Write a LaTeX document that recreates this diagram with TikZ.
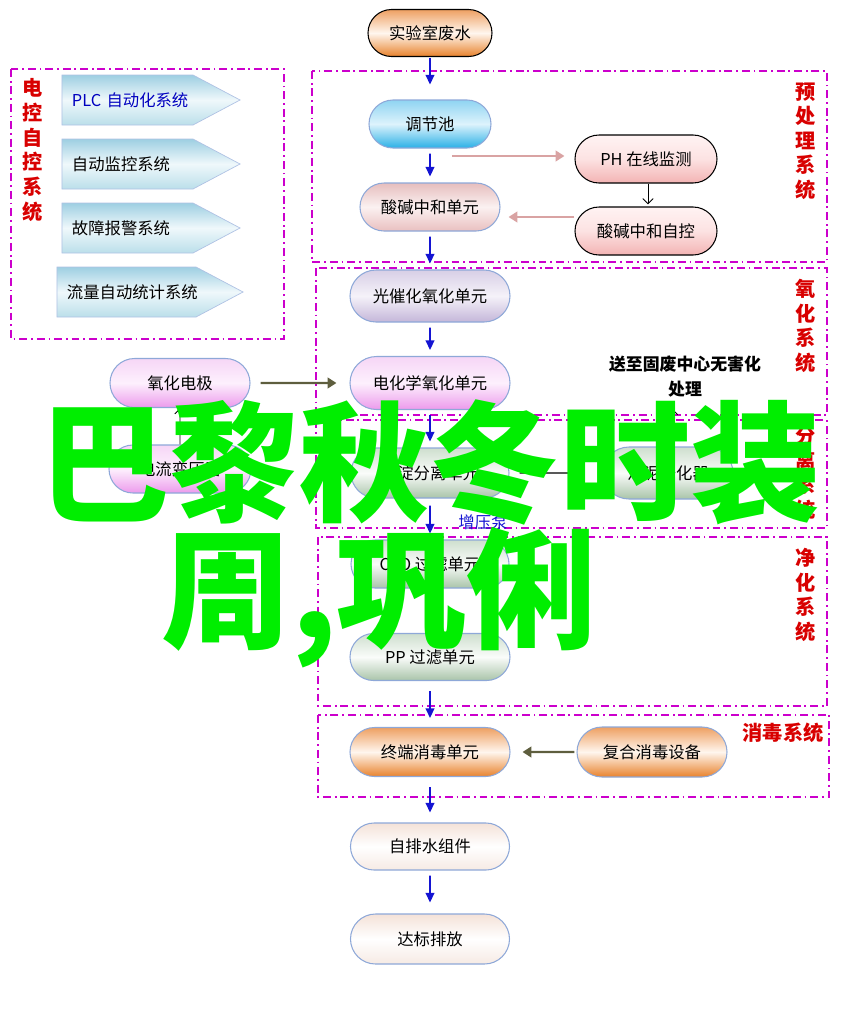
\documentclass[tikz,border=0pt]{standalone}
\usepackage{fontspec}
\newfontfamily\cjk{Noto Sans CJK SC}
\usetikzlibrary{arrows.meta,shapes.misc,shapes.symbols}
\definecolor{framemag}{HTML}{CC00CC}
\definecolor{lblred}{HTML}{D80000}
\definecolor{flowblue}{HTML}{1414D2}
\definecolor{pinkline}{HTML}{D9A3A3}
\definecolor{oliveline}{HTML}{5E5E3E}
\definecolor{leafgreen}{HTML}{00EE00}
\definecolor{edgeblue}{HTML}{8EA8D8}
\definecolor{orTop}{HTML}{EEA062}\definecolor{orMid}{HTML}{FFF6EE}\definecolor{orBot}{HTML}{E8822C}
\definecolor{blTop}{HTML}{8FD4F2}\definecolor{blMid}{HTML}{DDF3FC}\definecolor{blBot}{HTML}{2AB0E6}
\definecolor{pkTop}{HTML}{E6BEBE}\definecolor{pkMid}{HTML}{FBF1F1}\definecolor{pkBot}{HTML}{E9C0C0}
\definecolor{rdTop}{HTML}{FFF3F3}\definecolor{rdMid}{HTML}{FCE2E2}\definecolor{rdBot}{HTML}{F3B3B3}
\definecolor{lvTop}{HTML}{D8CFE6}\definecolor{lvMid}{HTML}{F5F2F9}\definecolor{lvBot}{HTML}{C4B6D9}
\definecolor{mgTop}{HTML}{F6D6F6}\definecolor{mgMid}{HTML}{FDF0FD}\definecolor{mgBot}{HTML}{EC9AEC}
\definecolor{grTop}{HTML}{CEDFCE}\definecolor{grMid}{HTML}{FAFCFA}\definecolor{grBot}{HTML}{A9C4A9}
\definecolor{plTop}{HTML}{F4E2D8}\definecolor{plMid}{HTML}{FFFFFF}\definecolor{plBot}{HTML}{F6EAE4}
\definecolor{ctTop}{HTML}{9ECFE2}\definecolor{ctMid}{HTML}{EFF8FB}\definecolor{ctBot}{HTML}{BBDFEA}
\begin{document}
\begin{tikzpicture}[scale=0.2,
    font=\cjk\fontsize{9.3}{11}\selectfont,
    pill/.style={rounded rectangle, draw=edgeblue, line width=0.6pt, minimum height=0.96cm, inner sep=0pt},
    orangepill/.style={pill, top color=orTop, bottom color=orBot, middle color=orMid},
    bluepill/.style={pill, top color=blTop, bottom color=blBot, middle color=blMid},
    pinkpill/.style={pill, top color=pkTop, bottom color=pkBot, middle color=pkMid},
    redpill/.style={pill, draw=black, top color=rdTop, bottom color=rdBot, middle color=rdMid},
    lavpill/.style={pill, top color=lvTop, bottom color=lvBot, middle color=lvMid},
    magpill/.style={pill, top color=mgTop, bottom color=mgBot, middle color=mgMid},
    greenpill/.style={pill, top color=grTop, bottom color=grBot, middle color=grMid},
    palepill/.style={pill, top color=plTop, bottom color=plBot, middle color=plMid},
    ctrlarrow/.style={signal, signal to=east, signal pointer angle=56, draw=edgeblue!70, line width=0.4pt,
        top color=ctTop, bottom color=ctBot, middle color=ctMid, minimum height=1cm,
        text width=2.22cm, align=left, inner xsep=0.2cm},
    secframe/.style={draw=framemag, line width=0.9pt, dash pattern=on 4.5pt off 2.2pt on 1pt off 2.2pt},
    seclabel/.style={text=lblred, align=center, font=\cjk\fontsize{11.5}{14}\selectfont\bfseries},
    flow/.style={draw=flowblue, line width=1.1pt, -{Triangle[length=5.5pt,width=5pt]}, shorten <=0.1cm, shorten >=0.12cm},
    pinkarr/.style={draw=pinkline, line width=1.2pt, -{Triangle[length=5pt,width=6pt]}},
    olivearr/.style={draw=oliveline, line width=1.2pt, -{Triangle[length=5pt,width=6pt]}},
    thinarr/.style={draw=black, line width=0.5pt, -{Straight Barb[length=3pt,width=6pt]}},
    blkarr/.style={draw=black, line width=0.6pt, -{Triangle[length=6pt,width=6pt]}},
    bigword/.style={text=leafgreen, font=\cjk\fontsize{74}{80}\selectfont\bfseries, inner sep=0pt}
]
    \useasboundingbox (0,0) rectangle (84.1,-101.7);
    % frames
    \draw [secframe] (1.1,-6.9) rectangle (28.4,-33.9);
    \draw [secframe] (31.2,-7.1) rectangle (82.7,-26.2);
    \draw [secframe] (31.6,-26.8) rectangle (82.7,-41.5);
    \draw [secframe] (31.6,-42.0) rectangle (82.7,-52.8);
    \draw [secframe] (31.8,-53.7) rectangle (82.7,-70.6);
    \draw [secframe] (31.8,-71.5) rectangle (82.9,-79.7);
    \node [seclabel] (ctrllbl) at (3.3,-15.0) {电\\控\\自\\控\\系\\统};
    \node [seclabel] (prelbl) at (80.6,-14.1) {预\\处\\理\\系\\统};
    \node [seclabel] (oxilbl) at (80.6,-32.6) {氧\\化\\系\\统};
    \node [seclabel] (seplbl) at (80.6,-47.3) {分\\离\\系\\统};
    \node [seclabel] (purlbl) at (80.6,-59.5) {净\\化\\系\\统};
    \node [seclabel] (dislbl) at (78.3,-73.3) {消毒系统};
    % control system
    \node [ctrlarrow, text=blue!75!black] (plc) at (12.75,-10.0) {\mbox{PLC 自动化系统}};
    \node [ctrlarrow] (monitor) at (12.75,-16.4) {\mbox{自动监控系统}};
    \node [ctrlarrow] (alarm) at (12.75,-22.8) {\mbox{故障报警系统}};
    \node [ctrlarrow, text width=2.38cm] (flowcount) at (12.65,-29.2) {\mbox{流量自动统计系统}};
    % main line
    \node [orangepill, draw=black, minimum width=2.48cm, minimum height=0.94cm] (src) at (43.0,-3.3) {实验室废水};
    \node [bluepill, minimum width=2.44cm] (eq) at (43.0,-12.4) {调节池};
    \node [pinkpill, minimum width=2.8cm] (acid) at (43.0,-20.7) {酸碱中和单元};
    \node [redpill, minimum width=2.84cm] (ph) at (64.6,-15.9) {PH 在线监测};
    \node [redpill, minimum width=2.84cm] (phctl) at (64.6,-23.1) {酸碱中和自控};
    \node [lavpill, minimum width=3.2cm, minimum height=1.04cm] (photo) at (43.0,-29.6) {光催化氧化单元};
    \node [magpill, minimum width=3.2cm, minimum height=1.06cm] (echem) at (43.0,-38.3) {电化学氧化单元};
    \node [magpill, minimum width=2.8cm, minimum height=0.98cm] (elec) at (18.0,-38.3) {氧化电极};
    \node [magpill, minimum width=2.84cm] (trans) at (18.0,-46.9) {电流变压器};
    \node [greenpill, minimum width=3.16cm, minimum height=1.0cm] (settle) at (43.0,-47.3) {沉淀分离单元};
    \node [greenpill, minimum width=2.6cm, minimum height=1.04cm] (sludge) at (66.8,-47.3) {污泥干化器};
    \node [font=\cjk\fontsize{9.6}{14.2}\selectfont\bfseries, align=center] (dest) at (68.5,-37.7) {送至固废中心无害化\\处理};
    \node [text=flowblue] (pump) at (48.3,-52.2) {增压泵};
    \node [greenpill, minimum width=3.16cm] (cto) at (43.0,-56.4) {CTO 过滤单元};
    \node [greenpill, minimum width=3.2cm, minimum height=0.94cm] (pp) at (43.0,-65.7) {PP 过滤单元};
    \node [orangepill, minimum width=3.2cm, minimum height=0.98cm] (term) at (43.0,-75.2) {终端消毒单元};
    \node [orangepill, minimum width=3.0cm, minimum height=1.0cm] (combo) at (65.2,-75.2) {复合消毒设备};
    \node [palepill, minimum width=3.18cm, minimum height=0.94cm] (drain) at (43.0,-84.65) {自排水组件};
    \node [palepill, minimum width=3.18cm, minimum height=1.0cm] (out) at (43.0,-93.9) {达标排放};
    % connectors
    \draw [flow, shorten <=0.02cm, shorten >=0.3cm] (src) -- (eq);
    \draw [flow] (eq) -- (acid);
    \draw [flow] (acid) -- (photo);
    \draw [flow] (photo) -- (echem);
    \draw [flow] (echem) -- (settle);
    \draw [flow, shorten <=0.14cm] (settle) -- (cto);
    \draw [flow] (cto) -- (pp);
    \draw [flow, shorten <=0.2cm, shorten >=0.18cm] (pp) -- (term);
    \draw [flow, shorten <=0.2cm, shorten >=0.2cm] (term) -- (drain);
    \draw [flow, shorten >=0.22cm] (drain) -- (out);
    \coordinate (phout) at (45.2,-15.6);
    \draw [pinkarr, shorten >=0.2cm] (phout) -- (ph.west |- phout);
    \coordinate (pinkret) at (0,-21.7);
    \draw [pinkarr, shorten >=0.16cm] (phctl.west |- pinkret) -- (acid.east |- pinkret);
    \draw [thinarr, shorten >=0.04cm] ([xshift=0.2cm]ph.south) -- ([xshift=0.2cm]phctl.north);
    \draw [olivearr, shorten <=0.2cm, shorten >=0.26cm] (elec) -- (echem);
    \draw [thinarr] (trans) -- (elec);
    \draw [blkarr, shorten <=0.2cm, shorten >=0.4cm] (settle) -- (sludge);
    \draw [thinarr, shorten >=0.1cm] ([xshift=0.44cm]sludge.north) -- ([xshift=0.44cm]sludge.north |- dest.south);
    \draw [olivearr, shorten <=0.04cm, shorten >=0.24cm] (combo) -- (term);
    % overlay words
    \node [bigword] (line1) at (43.0,-46.2) {巴黎秋冬时装};
    \node [bigword] (line2) at (37.9,-59.8) {周,巩俐};
\end{tikzpicture}
\end{document}
